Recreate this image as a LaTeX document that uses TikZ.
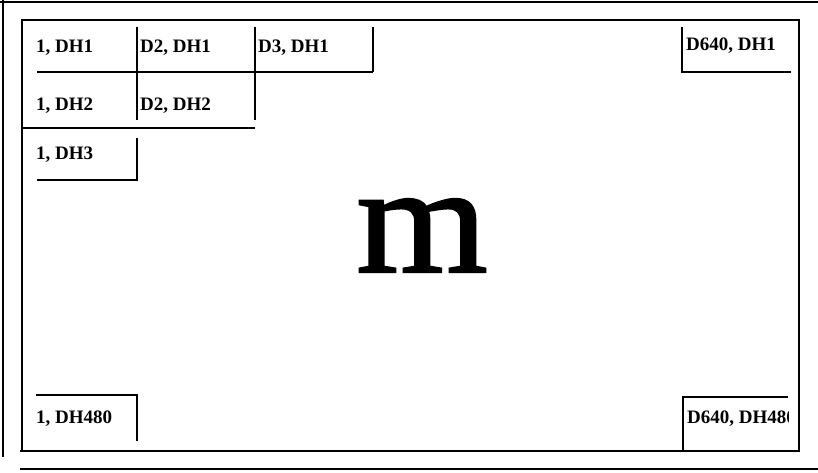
\documentclass[tikz,border=0pt]{standalone}
\usepackage{fontspec}
\setmainfont{Liberation Serif}
\newfontfamily\bigserif[FakeBold=1.5]{Liberation Serif}
\tikzset{
  cell/.style={anchor=base west, inner sep=0pt, font=\bfseries\fontsize{19}{20}\selectfont},
  grid/.style={line width=1.2pt},
  frame/.style={line width=2.2pt}
}
\begin{document}
\begin{tikzpicture}[x=1pt, y=-1pt]
	\useasboundingbox (0, 0) rectangle (818, 472);
	% Outer frame
	\draw[frame] (0, 2) -- (818, 2);
	\draw[frame] (3, 0) -- (3, 457);
	\draw[frame] (20, 469) -- (818, 469);
	
	% Screen
	\draw[frame] (20, 451) -- (799, 451) -- (799, 20) -- (22, 20) -- (22, 451);
	
	% Cells, top left
	\draw[grid] (37, 72) -- (373, 72);
	\draw[grid] (137, 27) -- (137, 120);
	\draw[grid] (255, 27) -- (255, 120);
	\draw[grid] (373, 27) -- (373, 72);
	\draw[frame] (22, 128) -- (255, 128);
	\draw[grid] (137, 138) -- (137, 180) -- (37, 180);
	
	\node[cell] (c11) at (36, 52) {1, DH1};
	\node[cell] (c21) at (140, 52) {D2, DH1};
	\node[cell] (c31) at (258, 52) {D3, DH1};
	\node[cell] (c12) at (36, 110) {1, DH2};
	\node[cell] (c22) at (140, 110) {D2, DH2};
	\node[cell] (c13) at (36, 159) {1, DH3};
	
	% Cell, top right
	\draw[grid] (682, 27) -- (682, 72) -- (791, 72);
	\node[cell] (c6401) at (686, 50) {D640, DH1};
	
	% Cells, bottom
	\draw[grid] (36, 395) -- (137, 395) -- (137, 441);
	\node[cell] (c1480) at (36, 423) {1, DH480};
	
	\draw[grid] (788, 397) -- (683, 397) -- (683, 451);
	\draw[line width=2.8pt] (683, 441) -- (683, 451);
	\begin{scope}
		\clip (683, 397) rectangle (788, 451);
		\node[cell] (c640480) at (687, 423) {D640, DH480};
	\end{scope}
	
	% Letter
	\node[anchor=base, inner sep=0pt, font=\bigserif\fontsize{155}{155}\selectfont] (m) at (422, 272) {\scalebox{1.09}[1]{m}};
\end{tikzpicture}
\end{document}
